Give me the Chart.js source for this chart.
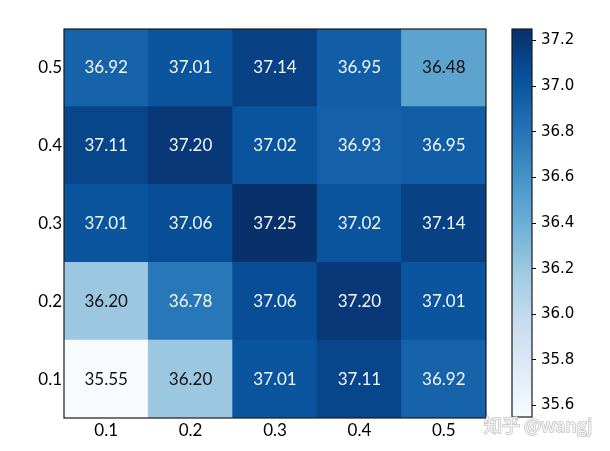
<!DOCTYPE html>
<html>
<head>
<meta charset="utf-8">
<script src="https://cdn.jsdelivr.net/npm/chart.js@4.4.1/dist/chart.umd.min.js"></script>
<style>
  html, body { margin: 0; padding: 0; background: #fff; }
  #wrap { position: relative; width: 610px; height: 451px; }
  #wrap canvas { position: absolute; left: 0; top: 0; }
</style>
</head>
<body>
<div id="wrap">
  <canvas id="heat" width="610" height="451"></canvas>
  <canvas id="cbar" width="610" height="451"></canvas>
</div>
<script>
// Datos del mapa de calor (fila 0.1 abajo -> 0.5 arriba)
const xLabels = ['0.1', '0.2', '0.3', '0.4', '0.5'];
const yLabels = ['0.1', '0.2', '0.3', '0.4', '0.5'];
const row01 = [35.55, 36.20, 37.01, 37.11, 36.92];
const row02 = [36.20, 36.78, 37.06, 37.20, 37.01];
const row03 = [37.01, 37.06, 37.25, 37.02, 37.14];
const row04 = [37.11, 37.20, 37.02, 36.93, 36.95];
const row05 = [36.92, 37.01, 37.14, 36.95, 36.48];
const rows = [row01, row02, row03, row04, row05];
const colorbarTicks = [35.6, 35.8, 36.0, 36.2, 36.4, 36.6, 36.8, 37.0, 37.2];
const vMin = 35.55;
const vMax = 37.25;

// Paleta "Blues" (matplotlib)
const blues = [
    [247, 251, 255], [222, 235, 247], [198, 219, 239], [158, 202, 225],
    [107, 174, 214], [66, 146, 198], [33, 113, 181], [8, 81, 156], [8, 48, 107]
];

function bluesAt(t) {
    t = Math.max(0, Math.min(1, t));
    const p = t * (blues.length - 1);
    const i = Math.min(Math.floor(p), blues.length - 2);
    const f = p - i;
    const c = blues[i].map((a, k) => Math.round(a + (blues[i + 1][k] - a) * f));
    return 'rgb(' + c.join(',') + ')';
}

function norm(v) {
    return (v - vMin) / (vMax - vMin);
}

Chart.defaults.font.family = 'Lato, "Open Sans", sans-serif';
Chart.defaults.color = '#000';

const framePlugin = {
    id: 'frame',
    afterDatasetsDraw(chart) {
        const a = chart.chartArea;
        const ctx = chart.ctx;
        ctx.save();
        ctx.strokeStyle = '#1a1a1a';
        ctx.lineWidth = 1.2;
        ctx.strokeRect(a.left, a.top, a.right - a.left, a.bottom - a.top);
        ctx.restore();
    }
};

const cellLabels = {
    id: 'cellLabels',
    afterDatasetsDraw(chart) {
        const ctx = chart.ctx;
        ctx.save();
        ctx.font = '17px Lato, "Open Sans", sans-serif';
        ctx.textAlign = 'center';
        ctx.textBaseline = 'middle';
        chart.data.datasets.forEach((ds, di) => {
            const meta = chart.getDatasetMeta(di);
            meta.data.forEach((el, j) => {
                const v = ds.values[j];
                const c = el.getCenterPoint();
                ctx.fillStyle = norm(v) > 0.6 ? '#f2f6ff' : '#111';
                ctx.fillText(v.toFixed(2), c.x, c.y);
            });
        });
        ctx.restore();
    }
};

new Chart(document.getElementById('heat'), {
    type: 'bar',
    data: {
        labels: xLabels,
        datasets: rows.map((row, r) => ({
            label: yLabels[r],
            values: row,
            data: row.map(() => [r, r + 1]),
            backgroundColor: row.map(v => bluesAt(norm(v))),
            borderWidth: 0,
            grouped: false,
            barPercentage: 1,
            categoryPercentage: 1,
            inflateAmount: 0.5
        }))
    },
    options: {
        responsive: false,
        animation: false,
        devicePixelRatio: 1,
        layout: { padding: { left: 0, right: 124, top: 29, bottom: 0 } },
        plugins: { legend: { display: false }, tooltip: { enabled: false } },
        scales: {
            x: {
                grid: { display: false, drawTicks: false },
                border: { display: false },
                ticks: { font: { size: 17 }, padding: 2, maxRotation: 0 },
                afterFit(s) { s.height = 33; }
            },
            y: {
                min: 0,
                max: 5,
                grid: { display: false, drawTicks: false },
                border: { display: false },
                afterBuildTicks(s) {
                    s.ticks = yLabels.map((_, i) => ({ value: i + 0.5 }));
                },
                ticks: {
                    font: { size: 17 },
                    padding: 2,
                    callback: v => yLabels[Math.floor(v)]
                },
                afterFit(s) { s.width = 64; }
            }
        }
    },
    plugins: [cellLabels, framePlugin]
});

// Barra de color
const watermark = {
    id: 'watermark',
    afterDraw(chart) {
        const ctx = chart.ctx;
        ctx.save();
        ctx.font = '18px "Noto Sans CJK SC", "DejaVu Sans", sans-serif';
        ctx.textBaseline = 'middle';
        ctx.lineWidth = 1.6;
        ctx.strokeStyle = 'rgba(150,150,150,0.55)';
        ctx.strokeText('知乎 @wangj', 484, 425);
        ctx.fillStyle = 'rgba(250,250,250,0.92)';
        ctx.fillText('知乎 @wangj', 484, 425);
        ctx.restore();
    }
};

new Chart(document.getElementById('cbar'), {
    type: 'bar',
    data: {
        labels: ['cb'],
        datasets: [{
            data: [[vMin, vMax]],
            backgroundColor(ctx) {
                const a = ctx.chart.chartArea;
                if (!a) return blues[4];
                const g = ctx.chart.ctx.createLinearGradient(0, a.bottom, 0, a.top);
                blues.forEach((c, i) => g.addColorStop(i / (blues.length - 1), 'rgb(' + c.join(',') + ')'));
                return g;
            },
            borderWidth: 0,
            barPercentage: 1,
            categoryPercentage: 1
        }]
    },
    options: {
        responsive: false,
        animation: false,
        devicePixelRatio: 1,
        layout: { padding: { left: 512, right: 18, top: 29, bottom: 34 } },
        plugins: { legend: { display: false }, tooltip: { enabled: false } },
        scales: {
            x: { display: false },
            y: {
                position: 'right',
                min: vMin,
                max: vMax,
                afterBuildTicks(s) {
                    s.ticks = colorbarTicks.map(v => ({ value: v }));
                },
                grid: { drawOnChartArea: false, tickLength: 4, color: '#000' },
                border: { display: false },
                ticks: {
                    font: { family: '"DejaVu Sans", sans-serif', size: 15 },
                    padding: 5,
                    callback: v => v.toFixed(1)
                },
                afterFit(s) { s.width = 60; }
            }
        }
    },
    plugins: [framePlugin, watermark]
});
</script>
</body>
</html>
